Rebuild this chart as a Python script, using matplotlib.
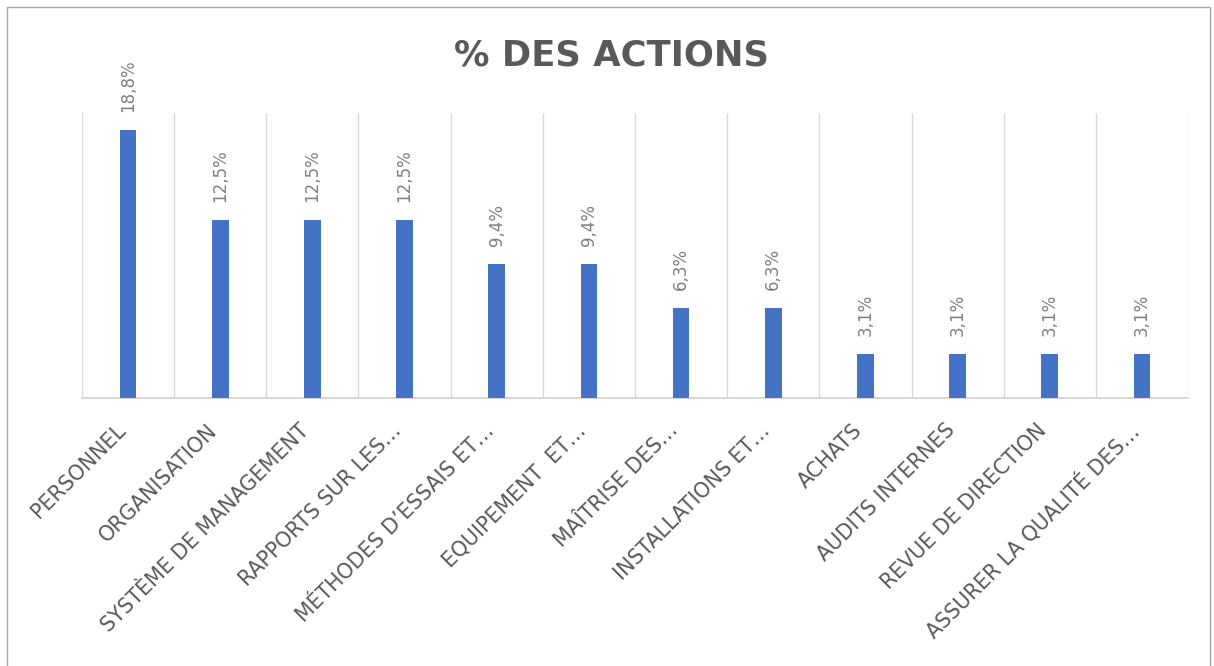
import matplotlib.pyplot as plt
import matplotlib.transforms as mtransforms
from matplotlib.patches import Rectangle

# data
categories = ["PERSONNEL", "ORGANISATION", "SYSTÈME DE MANAGEMENT",
              "RAPPORTS SUR LES…", "MÉTHODES D’ESSAIS ET…", "EQUIPEMENT  ET…",
              "MAÎTRISE DES…", "INSTALLATIONS ET…", "ACHATS",
              "AUDITS INTERNES", "REVUE DE DIRECTION",
              "ASSURER LA QUALITÉ DES…"]
values = [18.8, 12.5, 12.5, 12.5, 9.4, 9.4, 6.3, 6.3, 3.1, 3.1, 3.1, 3.1]
value_labels = ["18,8%", "12,5%", "12,5%", "12,5%", "9,4%", "9,4%",
                "6,3%", "6,3%", "3,1%", "3,1%", "3,1%", "3,1%"]

fig = plt.figure(figsize=(12.14, 6.66), dpi=100)
ax = fig.add_axes([82/1214, 1-398/666, (1188-82)/1214, (398-113)/666])

x = list(range(len(categories)))
bars = ax.bar(x, values, width=0.18, color="#4472C4", zorder=3)

for i, b in enumerate(bars):
    ax.annotate(value_labels[i], (b.get_x()+b.get_width()/2, b.get_height()),
                xytext=(0, 13), textcoords="offset points", rotation=90,
                ha="center", va="bottom", fontsize=12, color="#7f7f7f",
                family="DejaVu Sans")

ax.set_xlim(-0.5, len(categories)-0.5)
ax.set_ylim(0, 20)
ax.set_yticks([])

# vertical gridlines between categories
for k in range(len(categories)+1):
    ax.axvline(k-0.5, color="#d9d9d9", lw=1, zorder=1)

for s in ["top", "left", "right"]:
    ax.spines[s].set_visible(False)
ax.spines["bottom"].set_color("#d0d0d0")
ax.spines["bottom"].set_linewidth(1.2)

ax.set_xticks(x)
ax.set_xticklabels(categories, rotation=45, ha="right", va="center",
                   rotation_mode="anchor", fontsize=14.8, color="#595959",
                   family="DejaVu Sans")
ax.tick_params(axis="x", length=0, pad=21)
off = mtransforms.ScaledTranslation(-6/100, 0, fig.dpi_scale_trans)
for lab in ax.get_xticklabels():
    lab.set_transform(lab.get_transform() + off)

fig.text(611/1214, 1-55/666, "% DES ACTIONS", ha="center", va="center",
         fontsize=25.5, fontweight="bold", color="#595959", family="DejaVu Sans")

# outer chart border
fig.patches.append(Rectangle((7/1214, -0.01), (1210-7)/1214, 1.01-7/666,
                             transform=fig.transFigure, fill=False,
                             edgecolor="#a6a6a6", lw=1))

fig.savefig("out.png", dpi=100)
